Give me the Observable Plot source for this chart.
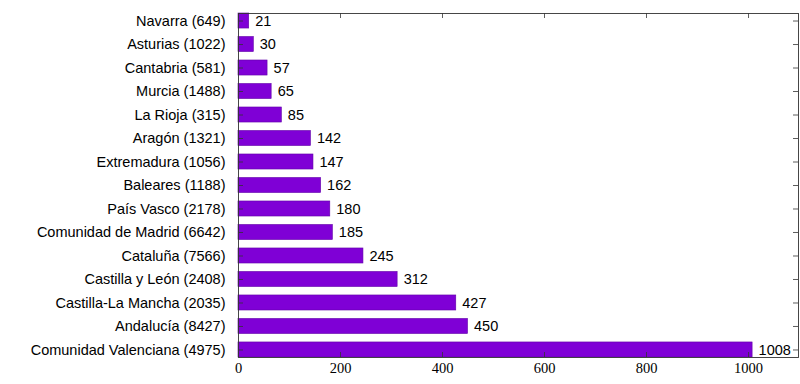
<!DOCTYPE html>
<html>
<head>
<meta charset="utf-8">
<script src="https://cdn.jsdelivr.net/npm/d3@7"></script>
<script src="https://cdn.jsdelivr.net/npm/@observablehq/plot@0.6"></script>
<style>
  html, body { margin: 0; padding: 0; background: #fff; }
  #chart svg { display: block; }
</style>
</head>
<body>
<div id="chart"></div>
<script>
const regions = [
  "Navarra (649)", "Asturias (1022)", "Cantabria (581)", "Murcia (1488)",
  "La Rioja (315)", "Aragón (1321)", "Extremadura (1056)", "Baleares (1188)",
  "País Vasco (2178)", "Comunidad de Madrid (6642)", "Cataluña (7566)",
  "Castilla y León (2408)", "Castilla-La Mancha (2035)", "Andalucía (8427)",
  "Comunidad Valenciana (4975)"
];
const values = [21, 30, 57, 65, 85, 142, 147, 162, 180, 185, 245, 312, 427, 450, 1008];
const xTicks = [0, 200, 400, 600, 800, 1000];

const data = regions.map((r, i) => ({region: r, value: values[i]}));

const W = 800, H = 384;
const mL = 238, mR = 2, mT = 13, mB = 27;
const fw = W - mL - mR, fh = H - mT - mB;
const sans = "'Liberation Sans', Arial, sans-serif";
const serif = "'Liberation Serif', 'DejaVu Serif', serif";

const chart = Plot.plot({
  width: W, height: H,
  marginLeft: mL, marginRight: mR, marginTop: mT, marginBottom: mB,
  style: {fontFamily: sans, fontSize: "14.5px", color: "#000", background: "#fff"},
  x: {domain: [0, 1098], axis: null},
  y: {domain: regions, paddingInner: 0.36, paddingOuter: 0, round: false},
  marks: [
    Plot.barX(data, {x: "value", y: "region", fill: "#7f00d6", stroke: "#6200a8", strokeWidth: 0.6}),
    Plot.text(data, {x: "value", y: "region", text: d => String(d.value), textAnchor: "start", dx: 6, fontSize: 14.5, fill: "#000"}),
    // inward ticks (bottom, top, left, right)
    Plot.tickX(xTicks, {x: d => d, insetTop: fh - 5, stroke: "#333", strokeWidth: 0.8}),
    Plot.tickX(xTicks, {x: d => d, insetBottom: fh - 5, stroke: "#333", strokeWidth: 0.8}),
    Plot.tickY(regions, {y: d => d, insetLeft: fw - 5, stroke: "#333", strokeWidth: 0.8}),
    Plot.tickY(regions, {y: d => d, insetRight: fw - 5, stroke: "#333", strokeWidth: 0.8}),
    Plot.frame({stroke: "#333", strokeWidth: 0.9}),
    Plot.text(xTicks, {x: d => d, frameAnchor: "bottom", dy: 15, text: d => String(d), fontFamily: serif, fontSize: 14.5, fill: "#000"}),
    Plot.axisY({tickSize: 0, tickPadding: 13, label: null, fontSize: 14.5})
  ]
});
document.getElementById("chart").appendChild(chart);
</script>
</body>
</html>
